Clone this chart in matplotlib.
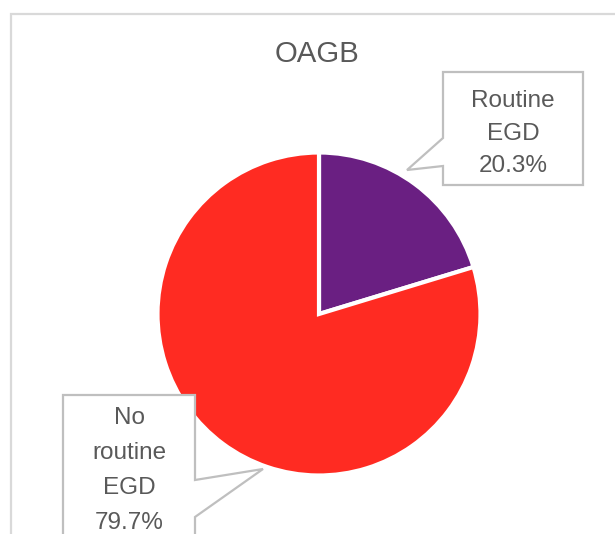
import matplotlib
matplotlib.use("Agg")
import matplotlib.pyplot as plt
from matplotlib.patches import Polygon, Rectangle

# ---- data ----
title = "OAGB"
categories = ["Routine\nEGD", "No\nroutine\nEGD"]
shares = [20.3, 79.7]
colors = ["#6A1F82", "#FF2B22"]

W, H = 615, 534
plt.rcParams['font.family'] = ['Liberation Sans', 'DejaVu Sans']
fig = plt.figure(figsize=(W / 100, H / 100), dpi=100)
ax = fig.add_axes([0, 0, 1, 1])
ax.set_xlim(0, W)
ax.set_ylim(0, H)
ax.set_aspect('equal')
ax.axis('off')

def Y(y):
    return H - y

txt_color = "#595959"

# chart border
ax.add_patch(Rectangle((10.5, Y(700)), 800, 700 - 13.5, fill=False,
                       edgecolor="#D9D9D9", linewidth=1.6, zorder=0))

# pie
ax.pie(shares, colors=colors, startangle=90, counterclock=False,
       center=(319, Y(314)), radius=161.5, frame=True,
       wedgeprops=dict(edgecolor="white", linewidth=3.0))
ax.set_xlim(0, W)
ax.set_ylim(0, H)
ax.axis('off')

# title
ax.text(317, Y(62), title, ha='center', va='baseline', fontsize=21.2,
        color=txt_color)

box_kw = dict(closed=True, facecolor="white", edgecolor="#BFBFBF",
              linewidth=1.6, zorder=5)

# callout for first category (top right)
pts1 = [(443, 72), (583, 72), (583, 185), (443, 185), (443, 166),
        (407, 170), (443, 138)]
ax.add_patch(Polygon([(x, Y(y)) for x, y in pts1], **box_kw))
lines1 = categories[0].split("\n") + [f"{shares[0]:.1f}%"]
for line, base in zip(lines1, [107, 140, 172]):
    ax.text(513, Y(base), line, ha='center', va='baseline', fontsize=17.5,
            color=txt_color, zorder=6)

# callout for second category (bottom left)
pts2 = [(63, 395), (195, 395), (195, 480), (263, 469), (195, 517),
        (195, 600), (63, 600)]
ax.add_patch(Polygon([(x, Y(y)) for x, y in pts2], **box_kw))
lines2 = categories[1].split("\n") + [f"{shares[1]:.1f}%"]
for line, base in zip(lines2, [424, 459, 494, 529]):
    ax.text(129, Y(base), line, ha='center', va='baseline', fontsize=17.5,
            color=txt_color, zorder=6)

fig.savefig("out.png", dpi=100)
